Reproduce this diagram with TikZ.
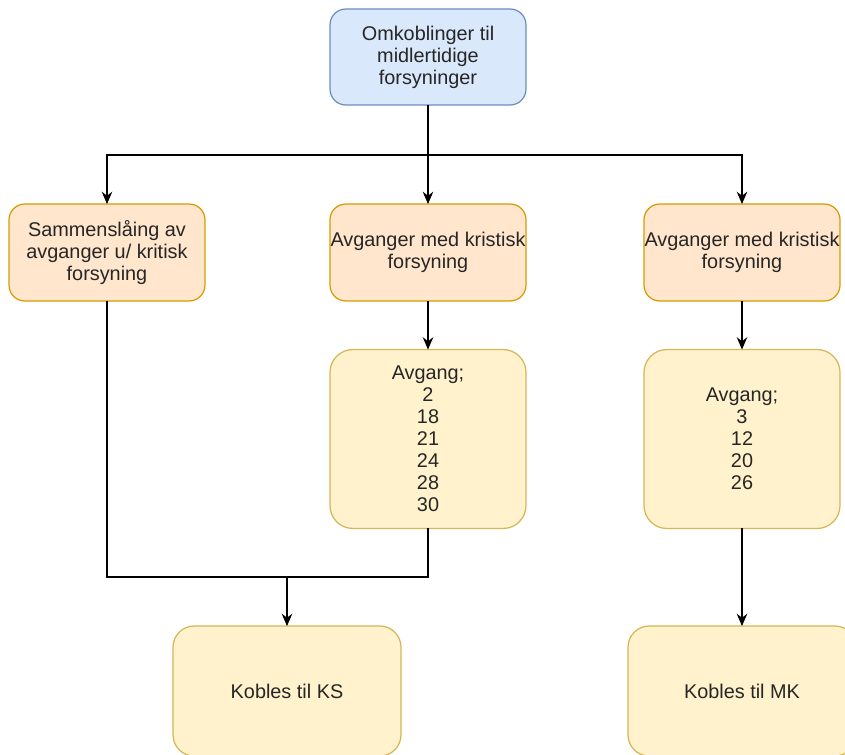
\documentclass[tikz,border=0pt]{standalone}
\usepackage{fontspec}
\setmainfont{Liberation Sans}
\usetikzlibrary{positioning, arrows.meta}
\definecolor{blueFill}{HTML}{DAE8FC}
\definecolor{blueLine}{HTML}{6C8EBF}
\definecolor{orangeFill}{HTML}{FFE6CC}
\definecolor{orangeLine}{HTML}{D79B00}
\definecolor{yellowFill}{HTML}{FFF2CC}
\definecolor{yellowLine}{HTML}{D6B656}

\begin{document}
\begin{tikzpicture}[x=0.02cm, y=-0.02cm, >={Stealth[length=7pt, width=6pt]},
    box/.style={draw, line width=0.7pt, rounded corners=9pt, align=center,
        inner sep=0pt, outer sep=0pt, text=black!85,
        font=\fontsize{11.3}{12.5}\selectfont},
    topbox/.style={box, fill=blueFill, draw=blueLine,
        minimum width=3.92cm, minimum height=1.92cm},
    kritbox/.style={box, fill=orangeFill, draw=orangeLine,
        minimum width=3.92cm, minimum height=1.94cm},
    listbox/.style={box, fill=yellowFill, draw=yellowLine,
        minimum width=3.92cm, minimum height=3.58cm, rounded corners=13pt},
    endbox/.style={box, fill=yellowFill, draw=yellowLine,
        minimum width=4.56cm, minimum height=2.6cm, rounded corners=12pt},
    link/.style={line width=0.6pt}]
    \useasboundingbox (0,0) rectangle (845,754);
    \clip (0,0) rectangle (845,754);
    % Top box
    \node[topbox] (omk) at (428,57) {Omkoblinger til\\midlertidige\\forsyninger};
    % Second row
    \node[kritbox] (saml) at (107,252.5) {Sammenslåing av\\avganger u/ kritisk\\forsyning};
    \node[kritbox] (kritA) at (428,252.5) {Avganger med kristisk\\forsyning};
    \node[kritbox] (kritB) at (742,252.5) {Avganger med kristisk\\forsyning};
    % Lists of departures
    \node[listbox] (avgA) at (428,439) {Avgang;\\2\\18\\21\\24\\28\\30};
    \node[listbox] (avgB) at (742,439) {Avgang;\\3\\12\\20\\26};
    % Targets (cut by the page edge)
    \node[endbox] (ks) at (287,691) {Kobles til KS};
    \node[endbox] (mk) at (742,691) {Kobles til MK};
    % Split below the top box
    \coordinate (split) at (428,155);
    \draw[link] (omk) -- (split);
    \draw[link, ->] (split) -| (saml);
    \draw[link, ->] (split) -- (kritA);
    \draw[link, ->] (split) -| (kritB);
    \draw[link, ->] (kritA) -- (avgA);
    \draw[link, ->] (kritB) -- (avgB);
    % Merge into KS
    \coordinate (merge) at (287,577);
    \draw[link] (saml) |- (merge) -| (avgA);
    \draw[link, ->] (merge) -- (ks);
    \draw[link, ->] (avgB) -- (mk);
\end{tikzpicture}
\end{document}
